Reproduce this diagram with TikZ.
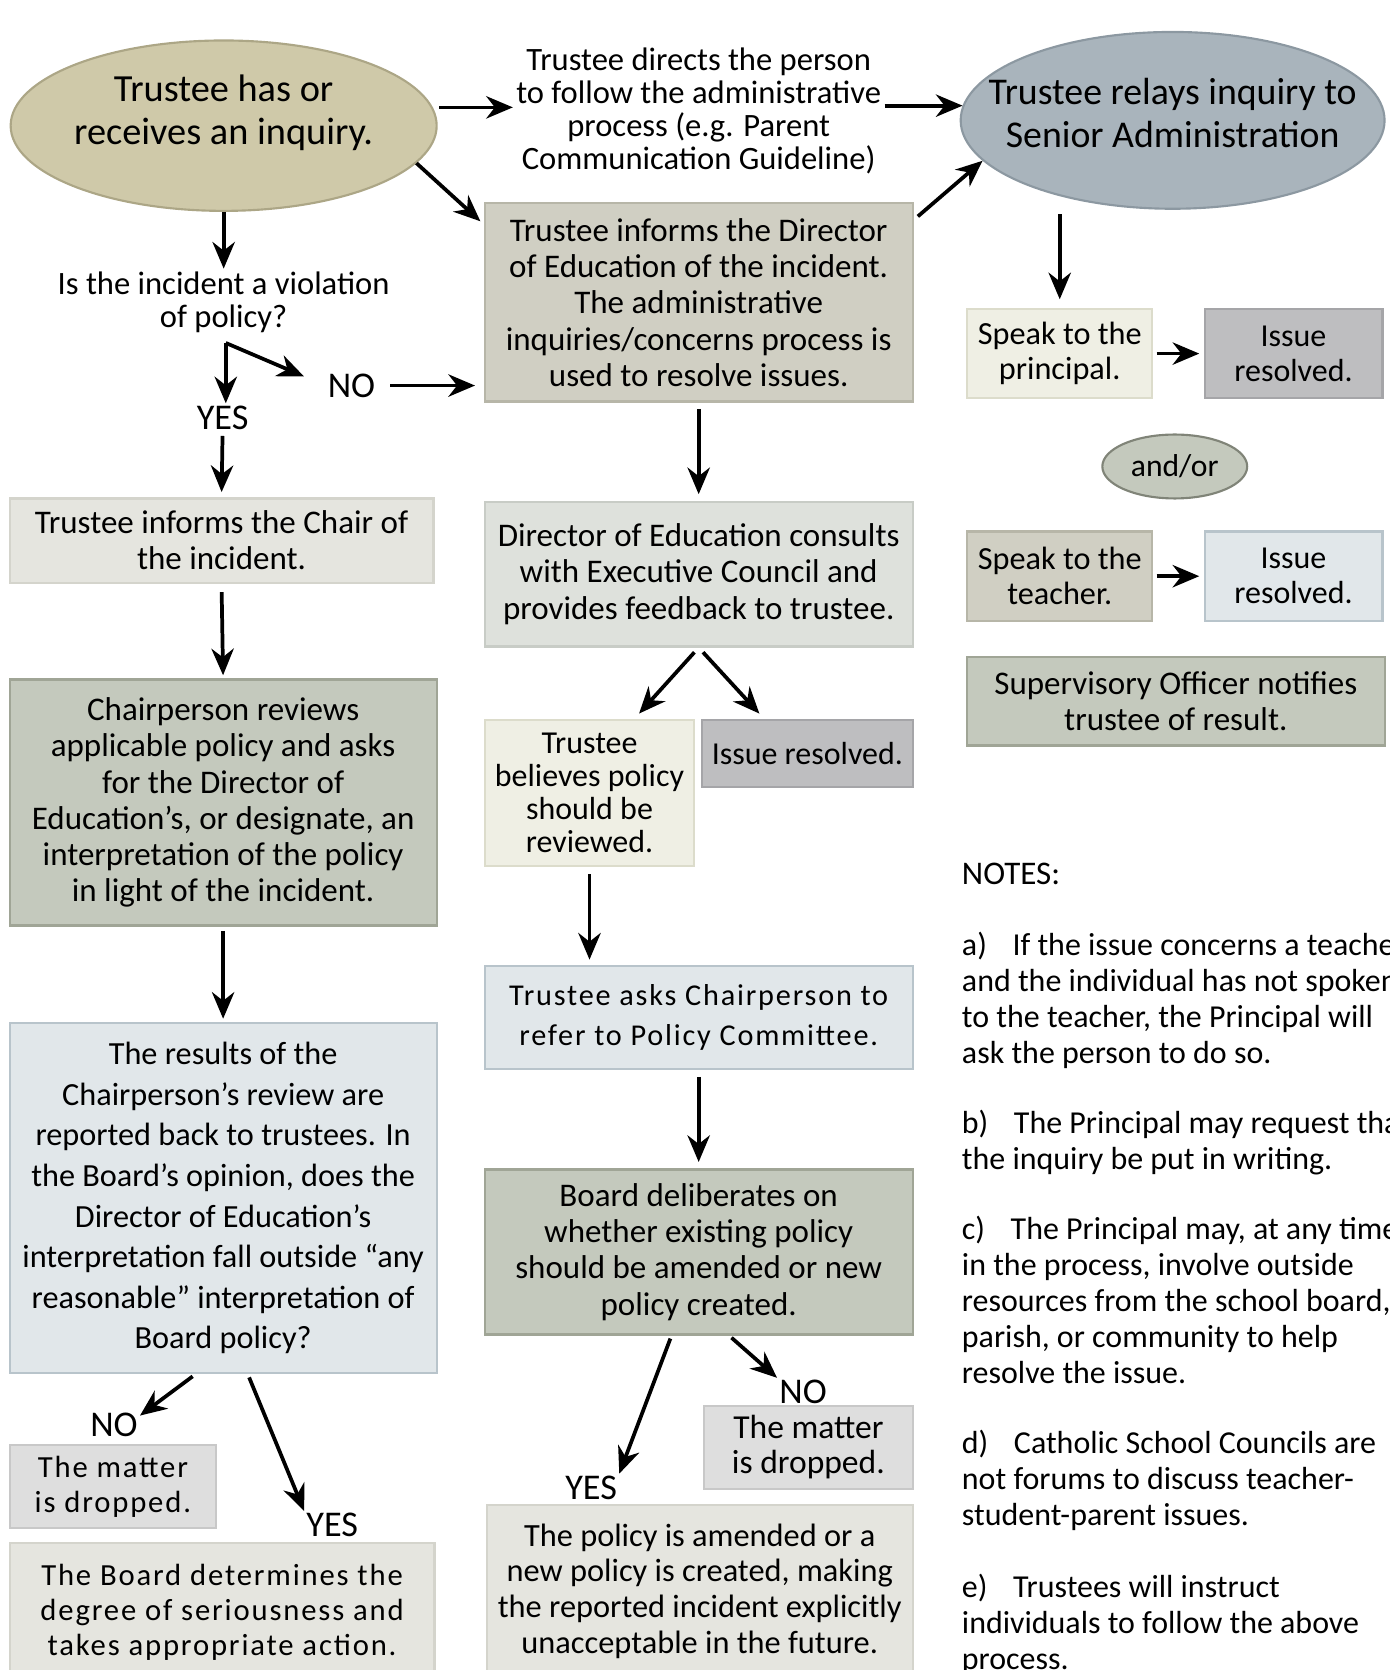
\documentclass[tikz,border=0pt]{standalone}
\usepackage{fontspec}
\setmainfont{Carlito}
\newfontfamily\widefont[LetterSpace=6]{Carlito}
\usepackage{tikz}
\usetikzlibrary{shapes,arrows.meta,positioning}
\definecolor{inquiry}{RGB}{207,201,169}
\definecolor{inquiryline}{RGB}{172,166,134}
\definecolor{senior}{RGB}{169,180,188}
\definecolor{seniorline}{RGB}{140,152,161}
\definecolor{stone}{RGB}{208,207,195}
\definecolor{stoneline}{RGB}{183,182,168}
\definecolor{sage}{RGB}{196,201,189}
\definecolor{sageline}{RGB}{160,165,150}
\definecolor{mist}{RGB}{225,231,234}
\definecolor{mistline}{RGB}{184,196,203}
\definecolor{paper}{RGB}{229,229,223}
\definecolor{paperline}{RGB}{212,212,204}
\definecolor{fog}{RGB}{222,225,220}
\definecolor{fogline}{RGB}{200,204,198}
\definecolor{cream}{RGB}{239,239,228}
\definecolor{creamline}{RGB}{220,220,203}
\definecolor{ash}{RGB}{190,190,192}
\definecolor{ashline}{RGB}{165,165,168}
\definecolor{pale}{RGB}{222,222,222}
\definecolor{paleline}{RGB}{200,200,200}
\tikzstyle{box}=[draw, rectangle, line width=2pt, inner sep=2pt, align=center, font=\fontsize{31}{34}\selectfont]
\tikzstyle{widebox}=[box, font=\widefont\fontsize{28.8}{33}\selectfont]
\tikzstyle{bubble}=[draw, ellipse, line width=2pt, inner sep=0pt]
\tikzstyle{bubbletext}=[inner sep=2pt, align=center, font=\fontsize{36}{41}\selectfont]
\tikzstyle{answer}=[inner sep=2pt, font=\fontsize{34}{36}\selectfont]
\tikzstyle{plain}=[inner sep=3pt, align=center, font=\fontsize{30.6}{31}\selectfont]
\tikzstyle{note}=[inner sep=0pt, anchor=north west, align=left, font=\fontsize{30}{33.8}\selectfont]
\tikzstyle{flow}=[-{Stealth[length=25pt,width=21pt]}, line width=3.5pt]

\begin{document}
\begin{tikzpicture}[x=1pt, y=-1pt]
    \useasboundingbox (0,0) rectangle (1305,1568);
    \clip (0,0) rectangle (1305,1568);
    % top row
    \node[bubble, fill=inquiry, draw=inquiryline, minimum width=400pt, minimum height=160pt] (e1) at (210,118) {};
    \node[bubbletext] (e1text) at (210,106) {Trustee has or\\receives an inquiry.};
    \node[plain] (t1) at (656,104) {Trustee directs the person\\to follow the administrative\\process (e.g. Parent\\Communication Guideline)};
    \node[bubble, fill=senior, draw=seniorline, minimum width=398pt, minimum height=166pt] (e2) at (1101,113) {};
    \node[bubbletext, font=\fontsize{35.5}{40}\selectfont] (e2text) at (1101,106) {Trustee relays inquiry to\\Senior Administration};

    % left column
    \node[plain] (q) at (210,284) {Is the incident a violation\\of policy?};
    \coordinate (qc) at (212,322);
    \node[answer] (no) at (330,362) {NO};
    \node[answer] (yes) at (209,392) {YES};
    \node[box, fill=paper, draw=paperline, minimum width=398pt, minimum height=79pt] (l1) at (208,507.5) {Trustee informs the Chair of\\the incident.};
    \node[box, fill=sage, draw=sageline, minimum width=401pt, minimum height=231pt] (l2) at (209.5,753.5) {Chairperson reviews\\applicable policy and asks\\for the Director of\\Education's, or designate, an\\interpretation of the policy\\in light of the incident.};
    \node[box, fill=mist, draw=mistline, minimum width=401pt, minimum height=329pt, font=\fontsize{30.3}{38.1}\selectfont] (l3) at (209.5,1125) {The results of the\\Chairperson's review are\\reported back to trustees. In\\the Board's opinion, does the\\Director of Education's\\interpretation fall outside ``any\\reasonable'' interpretation of\\Board policy?};
    \node[answer] (no2) at (107,1338) {NO};
    \node[widebox, fill=pale, draw=paleline, minimum width=194pt, minimum height=78pt] (l4) at (106,1396) {The matter\\is dropped.};
    \node[answer] (yes2) at (312,1432) {YES};
    \node[widebox, fill=paper, draw=paperline, minimum width=399pt, minimum height=130pt] (l5) at (208.5,1514) {The Board determines the\\degree of seriousness and\\takes appropriate action.};

    % middle column
    \node[box, fill=stone, draw=stoneline, minimum width=402pt, minimum height=186pt] (b1) at (656,284) {Trustee informs the Director\\of Education of the incident.\\The administrative\\inquiries/concerns process is\\used to resolve issues.};
    \node[box, fill=fog, draw=fogline, minimum width=402pt, minimum height=136pt] (m1) at (656,539) {Director of Education consults\\with Executive Council and\\provides feedback to trustee.};
    \coordinate (m2in) at (600,670);
    \coordinate (m3in) at (713,670);
    \node[box, fill=cream, draw=creamline, minimum width=197pt, minimum height=137pt, font=\fontsize{30}{31}\selectfont] (m2) at (553.5,744.5) {Trustee\\believes policy\\should be\\reviewed.};
    \node[box, fill=ash, draw=ashline, minimum width=198pt, minimum height=63pt, font=\fontsize{30}{34}\selectfont] (m3) at (758,707.5) {Issue resolved.};
    \node[widebox, fill=mist, draw=mistline, minimum width=402pt, minimum height=97pt, font=\widefont\fontsize{28.4}{38}\selectfont] (m4) at (656,955.5) {Trustee asks Chairperson to\\refer to Policy Committee.};
    \node[box, fill=sage, draw=sageline, minimum width=402pt, minimum height=155pt] (m5) at (656,1175.5) {Board deliberates on\\whether existing policy\\should be amended or new\\policy created.};
    \node[answer] (yes3) at (555,1397) {YES};
    \node[answer] (no3) at (754,1307) {NO};
    \node[box, fill=pale, draw=paleline, minimum width=196pt, minimum height=78pt, font=\fontsize{31.5}{33}\selectfont] (m6) at (759,1359) {The matter\\is dropped.};
    \node[box, fill=paper, draw=paperline, minimum width=400pt, minimum height=162pt, font=\fontsize{30.4}{33.5}\selectfont] (m7) at (657,1494) {The policy is amended or a\\new policy is created, making\\the reported incident explicitly\\unacceptable in the future.};

    % right column
    \node[box, fill=cream, draw=creamline, minimum width=174pt, minimum height=84pt, font=\fontsize{30.3}{33}\selectfont] (r1) at (995,332) {Speak to the\\principal.};
    \node[box, fill=ash, draw=ashline, minimum width=167pt, minimum height=84pt, font=\fontsize{30}{33}\selectfont] (r2) at (1214.5,332) {Issue\\resolved.};
    \node[draw, ellipse, line width=2pt, inner sep=0pt, fill=sage, draw=sageline!80!black, minimum width=136pt, minimum height=60pt, font=\fontsize{29.7}{34}\selectfont] (andor) at (1103,438) {and/or};
    \node[box, fill=stone, draw=stoneline, minimum width=174pt, minimum height=84pt, font=\fontsize{30.3}{33}\selectfont] (r3) at (995,541) {Speak to the\\teacher.};
    \node[box, fill=mist, draw=mistline, minimum width=167pt, minimum height=84pt, font=\fontsize{30}{33}\selectfont] (r4) at (1214.5,541) {Issue\\resolved.};
    \node[box, fill=sage, draw=sageline, minimum width=392pt, minimum height=83pt] (r5) at (1104,658.5) {Supervisory Officer notifies\\trustee of result.};

    % notes
    \node[note, font=\fontsize{31}{34}\selectfont] (notes) at (903,810) {NOTES:};
    \node[note] (na) at (903,875) {a)\hspace{24pt}If the issue concerns a teacher\\and the individual has not spoken\\to the teacher, the Principal will\\ask the person to do so.};
    \node[note] (nb) at (903,1042) {b)\hspace{24pt}The Principal may request that\\the inquiry be put in writing.};
    \node[note] (nc) at (903,1142) {c)\hspace{24pt}The Principal may, at any time\\in the process, involve outside\\resources from the school board,\\parish, or community to help\\resolve the issue.};
    \node[note] (nd) at (903,1343) {d)\hspace{24pt}Catholic School Councils are\\not forums to discuss teacher-\\student-parent issues.};
    \node[note] (ne) at (903,1478) {e)\hspace{24pt}Trustees will instruct\\individuals to follow the above\\process.};

    % connectors
    \path[flow] (e1.5) edge[shorten <=6pt] (e1.5 -| t1.west);
    \path[flow] (t1.east |- e2.176) edge (e2.176);
    \path[flow] (e1.-11) edge[shorten >=4pt] (b1.160);
    \path[flow] (b1.21) edge[shorten <=5pt] (e2.192);
    \path[flow] (e1.south) edge (q.north);
    \path[flow] (qc) edge (qc |- yes.north);
    \path[flow] (qc) edge[shorten >=22pt] (no.west);
    \path[flow] (no.east) edge[shorten <=12pt, shorten >=8pt] (no.east -| b1.west);
    \path[flow] (yes.south) edge[shorten <=4pt, shorten >=5pt] (l1.north);
    \path[flow] (l1.south) edge[shorten <=8pt, shorten >=3pt] (l2.north);
    \path[flow] (l2.south) edge[shorten <=4pt, shorten >=3pt] (l3.north);
    \path[flow] (l3.261) edge[shorten <=3pt] (no2.20);
    \path[flow] (l3.278) edge[shorten <=3pt] (yes2.north west);

    \path[flow] (b1.south) edge[shorten <=6pt, shorten >=6pt] (m1.north);
    \path[flow] (m1.south) edge[shorten <=6pt] (m2in);
    \path[flow] (m1.south) edge[shorten <=6pt] (m3in);
    \path[flow] (m2.south) edge[shorten <=7pt, shorten >=5pt] (m2.south |- m4.north);
    \path[flow] (m4.south) edge[shorten <=6pt, shorten >=6pt] (m4.south |- m5.north);
    \path[flow] (m5.252) edge[shorten <=3pt] (yes3.north east);
    \path[flow] (m5.290) edge[shorten <=3pt] (no3.north west);

    \path[flow] (r1.north |- e2.south) edge[shorten <=4pt, shorten >=8pt] (r1.north);
    \path[flow] (r1.east) edge[shorten <=3pt, shorten >=4pt] (r2.west);
    \path[flow] (r3.east) edge[shorten <=3pt, shorten >=4pt] (r4.west);
\end{tikzpicture}
\end{document}
